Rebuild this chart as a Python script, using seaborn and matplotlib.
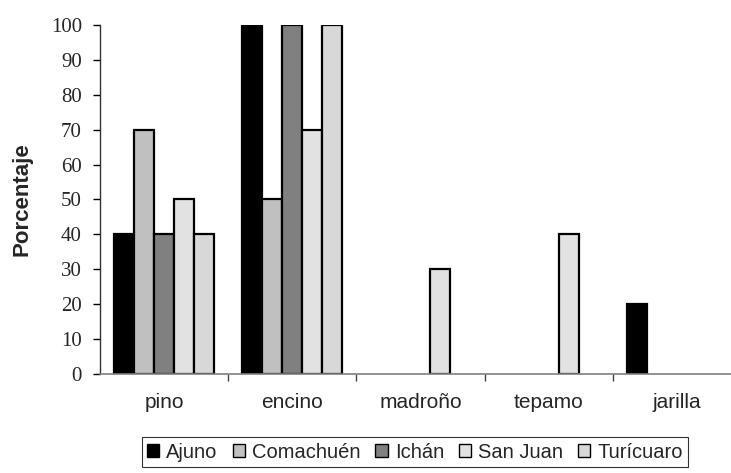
import matplotlib
matplotlib.use("Agg")
import matplotlib.pyplot as plt
import seaborn as sns
import pandas as pd
from matplotlib.patches import Patch
from matplotlib.ticker import FixedLocator, MultipleLocator

# Especies y localidades
especies = ["pino", "encino", "madroño", "tepamo", "jarilla"]
localidades = ["Ajuno", "Comachuén", "Ichán", "San Juan", "Turícuaro"]

# Porcentaje por localidad (en el orden de las especies)
ajuno = [40, 100, 0, 0, 20]
comachuen = [70, 50, 0, 0, 0]
ichan = [40, 100, 0, 0, 0]
san_juan = [50, 70, 30, 40, 0]
turicuaro = [40, 100, 0, 0, 0]

colores = ["#000000", "#C0C0C0", "#808080", "#E2E2E2", "#D8D8D8"]

valores = [ajuno, comachuen, ichan, san_juan, turicuaro]
df = pd.DataFrame(
    [(esp, loc, v) for loc, serie in zip(localidades, valores)
     for esp, v in zip(especies, serie)],
    columns=["especie", "localidad", "porcentaje"],
)

sns.set_style("white")
fig = plt.figure(figsize=(7.31, 4.73), dpi=100)
ax = fig.add_axes([100 / 731, 1 - 374 / 473, 641 / 731, 349 / 473])

sns.barplot(
    data=df, x="especie", y="porcentaje", hue="localidad",
    order=especies, hue_order=localidades,
    palette=dict(zip(localidades, colores)),
    width=0.78, edgecolor="black", linewidth=1.6,
    errorbar=None, legend=False, ax=ax,
)

# Ocultar las barras sin valor
for p in ax.patches:
    if p.get_height() == 0:
        p.set_visible(False)

ax.set_xlim(-0.5, 4.5)
ax.set_ylim(0, 100)
ax.yaxis.set_major_locator(MultipleLocator(10))

serif = ["Liberation Serif", "DejaVu Serif"]
sans = ["Liberation Sans", "DejaVu Sans"]
for lbl in ax.get_yticklabels():
    lbl.set_fontfamily(serif)
    lbl.set_fontsize(15)
ax.tick_params(axis="y", direction="out", length=5, width=1, color="black",
               left=True, pad=8)

# Etiquetas de especie al centro, marcas entre grupos
ax.set_xticks(range(len(especies)))
ax.set_xticklabels(especies, fontfamily=sans, fontsize=15)
ax.tick_params(axis="x", which="major", length=0, pad=14)
ax.xaxis.set_minor_locator(FixedLocator([0.5, 1.5, 2.5, 3.5]))
ax.tick_params(axis="x", which="minor", direction="out", length=5,
               width=1, color="#444444", bottom=True)

for s in ["top", "right"]:
    ax.spines[s].set_visible(False)
ax.spines["left"].set_color("#333333")
ax.spines["left"].set_linewidth(1)
ax.spines["bottom"].set_color("#808080")
ax.spines["bottom"].set_linewidth(1.2)

ax.set_xlabel("")
ax.set_ylabel("Porcentaje", fontfamily=sans, fontsize=16, fontweight="bold")
ax.yaxis.set_label_coords(-67 / 641, 0.5)

handles = [Patch(facecolor=c, edgecolor="black", linewidth=1.0)
           for c in colores]
leg = fig.legend(
    handles, localidades, loc="center",
    bbox_to_anchor=(415 / 731, 1 - 452 / 473), ncol=5,
    frameon=True, fancybox=False, edgecolor="black",
    prop={"family": sans, "size": 14.5},
    handlelength=0.6, handleheight=0.6, handletextpad=0.35,
    columnspacing=0.75, borderpad=0.25, borderaxespad=0,
)
leg.get_frame().set_linewidth(0.8)

fig.savefig("out.png", dpi=100, facecolor="white")
